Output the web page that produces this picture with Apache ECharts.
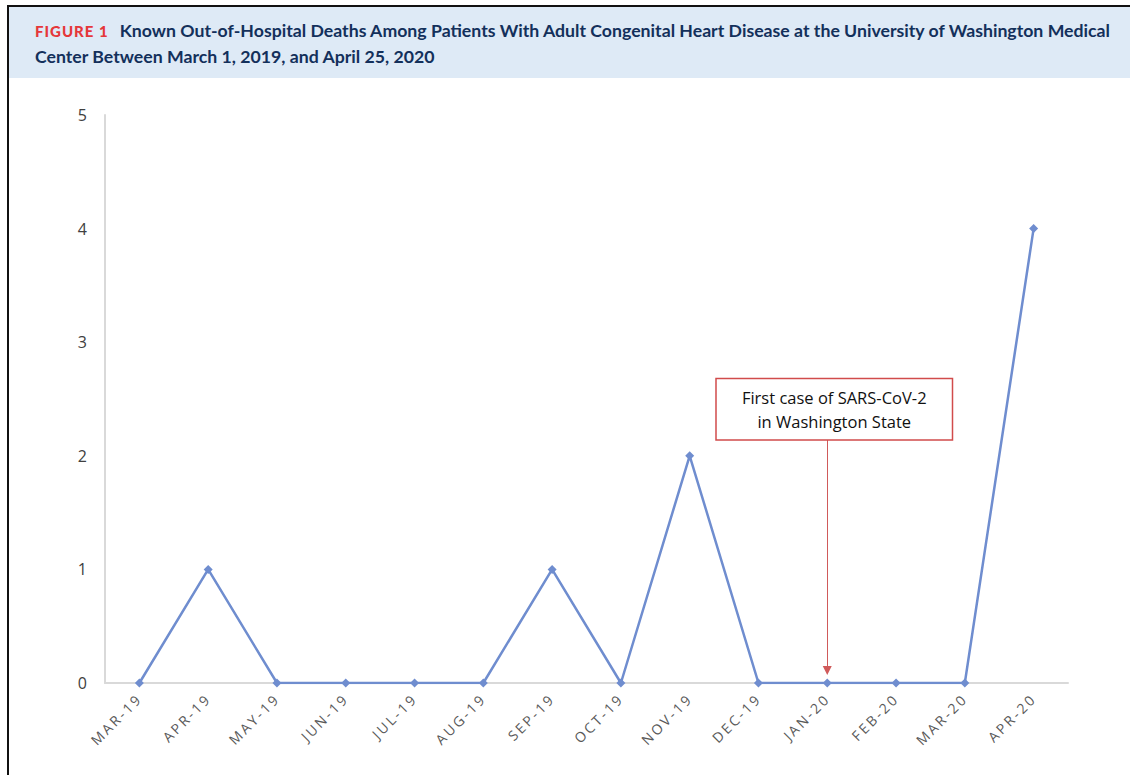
<!DOCTYPE html>
<html>
<head>
<meta charset="utf-8">
<script src="https://cdn.jsdelivr.net/npm/echarts@6/dist/echarts.min.js"></script>
<style>
	html,body{margin:0;padding:0;background:#fff;}
	#wrap{position:relative;width:1130px;height:775px;overflow:hidden;}
	#main{position:absolute;left:0;top:0;width:1130px;height:775px;}
	#frameTop{position:absolute;left:8px;top:5px;width:1130px;height:2px;background:#111;}
	#frameLeft{position:absolute;left:7px;top:5px;width:2px;height:780px;background:#111;}
	#head{position:absolute;left:9px;top:7px;width:1121px;height:71px;background:#deeaf6;
		font-family:Lato,"Open Sans",sans-serif;font-weight:bold;font-size:17.7px;color:#13305b;line-height:26px;}
	#head .txt{position:absolute;left:26px;top:11px;width:1095px;white-space:nowrap;}
	#head .fig{color:#e5373a;letter-spacing:1px;margin-right:11px;font-weight:900;font-size:15px;}
	/* x轴文字字间距 */
	#main svg text[fill="#595959"]{letter-spacing:2.5px;}
</style>
</head>
<body>
<div id="wrap">
	<div id="main"></div>
	<div id="head"><div class="txt"><span class="fig">FIGURE 1</span>Known Out-of-Hospital Deaths Among Patients With Adult Congenital Heart Disease at the University of Washington Medical<br>Center Between March 1, 2019, and April 25, 2020</div></div>
	<div id="frameTop"></div>
	<div id="frameLeft"></div>
</div>
<script>
//月份
var months=["MAR-19","APR-19","MAY-19","JUN-19","JUL-19","AUG-19","SEP-19","OCT-19","NOV-19","DEC-19","JAN-20","FEB-20","MAR-20","APR-20"];
//院外死亡人数
var deaths=[0,1,0,0,0,0,1,0,2,0,0,0,0,4];
//y轴刻度
var yTicks=[0,1,2,3,4,5];
//标注
var noteMonth="JAN-20",
	noteText="First case of SARS-CoV-2\nin Washington State",
	noteBoxValue=2.41,
	noteLineTop=2.14,
	noteLineEnd=0.11;

var myChart=echarts.init(document.getElementById("main"),null,{renderer:'svg'});
var option={
	animation:false,
	grid:{
		left:105,
		right:62,
		top:115,
		bottom:92,
		containLabel:false
	},
	xAxis:{
		type:'category',
		boundaryGap:true,
		data:months,
		axisTick:{show:false},
		axisLine:{lineStyle:{color:"#d9d9d9",width:2}},
		axisLabel:{
			rotate:45,
			interval:0,
			margin:13,
			color:"#595959",
			fontSize:14,
			fontFamily:"Open Sans"
		}
	},
	yAxis:{
		type:'value',
		min:yTicks[0],
		max:yTicks[yTicks.length-1],
		interval:1,
		splitLine:{show:false},
		axisTick:{show:false},
		axisLine:{show:true,lineStyle:{color:"#d9d9d9",width:2}},
		axisLabel:{
			color:"#404040",
			fontSize:16,
			margin:18,
			fontFamily:"Open Sans"
		}
	},
	series:[{
		name:'deaths',
		type:'line',
		data:deaths,
		symbol:'diamond',
		symbolSize:9,
		lineStyle:{color:"#6f8dcf",width:2.5},
		itemStyle:{color:"#6f8dcf"},
		markLine:{
			silent:true,
			symbol:['none','triangle'],
			symbolSize:[9,9],
			lineStyle:{color:"#d05a5a",width:1,type:'solid'},
			label:{show:false},
			data:[[
				{coord:[noteMonth,noteLineTop]},
				{coord:[noteMonth,noteLineEnd],itemStyle:{color:"#c0302b"}}
			]]
		},
		markPoint:{
			silent:true,
			data:[{
				coord:[noteMonth,noteBoxValue],
				symbol:'circle',
				symbolSize:0,
				label:{
					show:true,
					position:'inside',
					offset:[7,0],
					formatter:noteText,
					color:"#111",
					fontSize:16.5,
					lineHeight:24,
					fontFamily:"Open Sans",
					align:'center',
					verticalAlign:'middle',
					width:203,
					padding:[6,16,6,16],
					backgroundColor:"#fff",
					borderColor:"#d14b4b",
					borderWidth:1.5
				}
			}]
		}
	}]
};
myChart.setOption(option);
</script>
</body>
</html>
